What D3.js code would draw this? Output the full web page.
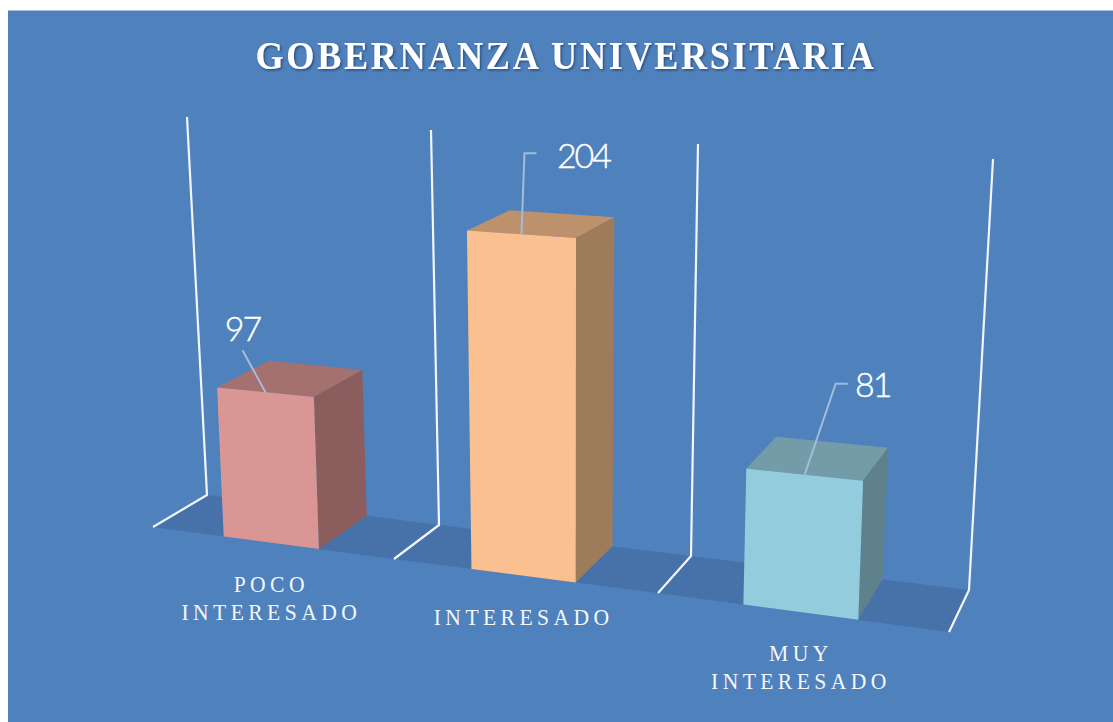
<!DOCTYPE html>
<html>
<head>
<meta charset="utf-8">
<script src="https://cdnjs.cloudflare.com/ajax/libs/d3/7.8.5/d3.min.js"></script>
<style>
    html, body { margin: 0; padding: 0; background: #fff; overflow: hidden; }
</style>
</head>
<body>
<div id="chart"></div>
<script>
// chart data
var categories = ["POCO INTERESADO", "INTERESADO", "MUY INTERESADO"];
var values = [97, 204, 81];
var axisMax = 250;
var chartTitle = "GOBERNANZA UNIVERSITARIA";

var frontColors = ["#D99694", "#FAC090", "#93CDDD"];
var topColors = ["#A5716F", "#BC916C", "#739BA8"];
var sideColors = ["#8B5E5D", "#9D7B5B", "#5E818B"];

var width = 1113, height = 722;

var svg = d3.select("#chart").append("svg")
    .attr("width", width)
    .attr("height", height)
    .style("display", "block");

var shadow = svg.append("defs").append("filter")
    .attr("id", "title-shadow")
    .attr("x", "-5%").attr("y", "-20%").attr("width", "110%").attr("height", "150%");
shadow.append("feDropShadow")
    .attr("dx", 1.5).attr("dy", 1.5).attr("stdDeviation", 1)
    .attr("flood-color", "#1F3A5F").attr("flood-opacity", 0.75);

svg.append("rect")
    .attr("x", 8).attr("y", 10.5)
    .attr("width", width).attr("height", height)
    .attr("fill", "#4F81BD");

// the 3D box: each wall position goes through its own scale, so perspective stays in the scales
var wallDomain = [0, 1, 2, 3];
var frontX = d3.scaleLinear().domain(wallDomain).range([153, 394, 658, 949]);
var frontY = d3.scaleLinear().domain(wallDomain).range([527, 559, 593, 632]);
var backX = d3.scaleLinear().domain(wallDomain).range([207, 439, 691, 969]);
var backY = d3.scaleLinear().domain(wallDomain).range([495, 525, 556, 590]);
var frontTopX = d3.scaleLinear().domain(wallDomain).range([132, 384, 663, 969]);
var frontTopY = d3.scaleLinear().domain(wallDomain).range([134, 146, 162, 175]);
var backTopX = d3.scaleLinear().domain(wallDomain).range([187, 431, 698, 993]);
var backTopY = d3.scaleLinear().domain(wallDomain).range([117, 130, 144, 159]);

var band = d3.scaleBand()
    .domain(categories)
    .range([0, 3])
    .paddingInner(0.605)
    .paddingOuter(0.3025)
    .align(0.485);

// slightly bent because of the camera
var heightScale = d3.scalePow().exponent(1.04).domain([0, axisMax]).range([0, 1]);

// c = position along the walls, v = value, d = depth (0 front, 1 back)
function project(c, v, d) {
    var t = heightScale(v);
    var fx = frontX(c) + (frontTopX(c) - frontX(c)) * t;
    var fy = frontY(c) + (frontTopY(c) - frontY(c)) * t;
    var bx = backX(c) + (backTopX(c) - backX(c)) * t;
    var by = backY(c) + (backTopY(c) - backY(c)) * t;
    return [fx + (bx - fx) * d, fy + (by - fy) * d];
}

var polygon = d3.line().curve(d3.curveLinearClosed);
var polyline = d3.line();

// floor
var floorPoints = wallDomain.map(function (c) { return project(c, 0, 0); })
    .concat(wallDomain.slice().reverse().map(function (c) { return project(c, 0, 1); }));
svg.append("path")
    .attr("d", polygon(floorPoints))
    .attr("fill", "#4672A9");

// walls
svg.selectAll(".wall")
    .data(wallDomain)
    .enter()
    .append("path")
    .attr("class", "wall")
    .attr("fill", "none")
    .attr("stroke", "#F2F5FA")
    .attr("stroke-width", 2.2)
    .attr("stroke-linejoin", "round")
    .attr("d", function (c) {
        return polyline([project(c, axisMax, 1), project(c, 0, 1), project(c, 0, 0)]);
    });

// bars
var bars = svg.selectAll(".bar")
    .data(categories)
    .enter()
    .append("g")
    .attr("class", "bar");

bars.append("path")
    .attr("fill", function (d, i) { return topColors[i]; })
    .attr("d", function (d, i) {
        var c0 = band(d), c1 = c0 + band.bandwidth(), v = values[i];
        return polygon([project(c0, v, 0), project(c1, v, 0), project(c1, v, 1), project(c0, v, 1)]);
    });

bars.append("path")
    .attr("fill", function (d, i) { return sideColors[i]; })
    .attr("d", function (d, i) {
        var c1 = band(d) + band.bandwidth(), v = values[i];
        return polygon([project(c1, v, 0), project(c1, v, 1), project(c1, 0, 1), project(c1, 0, 0)]);
    });

bars.append("path")
    .attr("fill", function (d, i) { return frontColors[i]; })
    .attr("d", function (d, i) {
        var c0 = band(d), c1 = c0 + band.bandwidth(), v = values[i];
        return polygon([project(c0, v, 0), project(c1, v, 0), project(c1, 0, 0), project(c0, 0, 0)]);
    });

// leader lines and value labels, offsets are measured from the front top edge of each bar
var elbowOffset = [[-23, -42], [3, -81], [31, -91]];
var stubLength = [0, 12, 12];
var labelOffset = [[-23, -51], [62, -66], [68, -78]];

function barAnchor(d, i) {
    return project(band(d) + band.bandwidth() / 2, values[i], 0);
}

svg.selectAll(".leader")
    .data(categories)
    .enter()
    .append("path")
    .attr("class", "leader")
    .attr("fill", "none")
    .attr("stroke", "#A3BCDB")
    .attr("stroke-width", 2)
    .attr("d", function (d, i) {
        var a = barAnchor(d, i);
        var ex = a[0] + elbowOffset[i][0], ey = a[1] + elbowOffset[i][1];
        return polyline([a, [ex, ey], [ex + stubLength[i], ey]]);
    });

svg.selectAll(".value-label")
    .data(categories)
    .enter()
    .append("text")
    .attr("class", "value-label")
    .attr("x", function (d, i) { return barAnchor(d, i)[0] + labelOffset[i][0]; })
    .attr("y", function (d, i) { return barAnchor(d, i)[1] + labelOffset[i][1]; })
    .attr("text-anchor", "middle")
    .attr("fill", "#fff")
    .attr("stroke", "#fff")
    .attr("stroke-width", 0.4)
    .style("font-family", "Lato, sans-serif")
    .style("font-weight", 300)
    .style("font-size", "34px")
    .style("letter-spacing", "-2px")
    .text(function (d, i) { return values[i]; });

// category labels, one word per line
var labels = svg.selectAll(".category-label")
    .data(categories)
    .enter()
    .append("text")
    .attr("class", "category-label")
    .attr("text-anchor", "middle")
    .attr("fill", "#F4F7FB")
    .style("font-family", "'Liberation Serif', serif")
    .style("font-size", "24px")
    .style("letter-spacing", "4.9px");

labels.each(function (d) {
    var a = project(band(d) + band.bandwidth() / 2, 0, 0);
    var text = d3.select(this)
        .attr("transform", "translate(" + a[0] + "," + a[1] + ") scale(0.9,1)");
    d.split(" ").forEach(function (word, j) {
        text.append("tspan")
            .attr("x", 0)
            .attr("y", 49 + j * 28)
            .text(word);
    });
});

// title
svg.append("text")
    .attr("transform", "translate(566,69) scale(0.883,1)")
    .attr("text-anchor", "middle")
    .attr("fill", "#fff")
    .attr("filter", "url(#title-shadow)")
    .style("font-family", "'Liberation Serif', serif")
    .style("font-weight", 700)
    .style("font-size", "41px")
    .style("letter-spacing", "3px")
    .text(chartTitle);
</script>
</body>
</html>
